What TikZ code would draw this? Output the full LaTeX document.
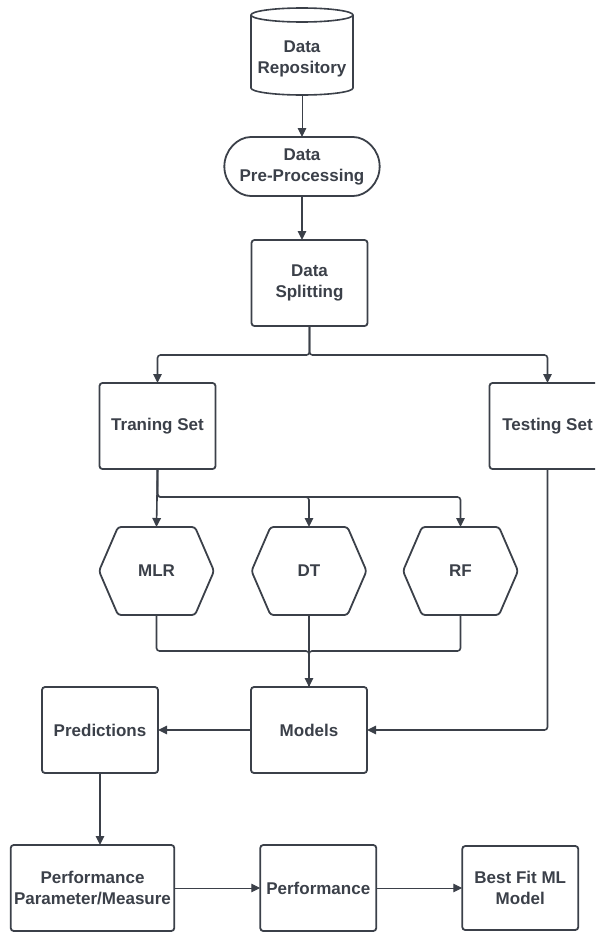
\documentclass[tikz,border=0pt]{standalone}
\usepackage{fontspec}
\setmainfont{Liberation Sans}
\usetikzlibrary{arrows.meta,positioning,shapes.misc}
\definecolor{ink}{HTML}{3B4049}
\tikzstyle{box} = [draw=ink, line width=1.8pt, outer sep=0pt, rounded corners=3pt, minimum width=116pt, minimum height=86pt, align=center, text=ink, font=\bfseries\fontsize{17}{21}\selectfont]
\tikzstyle{plain} = [outer sep=0pt, align=center, text=ink, font=\bfseries\fontsize{17}{21}\selectfont]
\tikzstyle{line} = [draw=ink, line width=1.6pt, rounded corners=3pt]
\tikzstyle{arrow} = [line, -{Triangle[length=9pt,width=8.5pt]}]
\tikzstyle{thinarrow} = [draw=ink, line width=1pt, -{Triangle[length=9pt,width=8.5pt]}]

\begin{document}
\begin{tikzpicture}[x=1pt, y=-1pt, node distance=42pt]
	\clip (0,0) rectangle (595,932);

	% repository drawn as a cylinder round the text
	\node[plain, minimum width=102pt, minimum height=73pt] (repo) at (302,58.5) {Data\\Repository};
	\draw[line, sharp corners] ([yshift=7pt]repo.north) ellipse [x radius=51pt, y radius=7pt];
	\draw[line, sharp corners] ([yshift=7pt]repo.north west) -- ([yshift=7pt]repo.south west)
		arc[start angle=180, end angle=360, x radius=51pt, y radius=7pt] -- ([yshift=7pt]repo.north east);

	\node[box, rounded rectangle, minimum width=162pt, minimum height=59pt, below=42pt of repo] (prep) {Data\\Pre-Processing};
	\node[box, below=44pt of prep, xshift=7.5pt] (split) {Data\\Splitting};
	\node[box, below left=57pt and 36pt of split] (train) {Traning Set};
	\node[box, below right=57pt and 122pt of split] (test) {Testing Set};

	% models as hexagons
	\foreach \name/\lbl/\x in {mlr/MLR/156.5, dt/DT/309, rf/RF/460.5} {
		\node[plain, minimum width=115pt, minimum height=88pt] (\name) at (\x,571) {\lbl};
		\draw[line, line width=1.8pt] ([xshift=19pt]\name.north west) -- ([xshift=-19pt]\name.north east) -- (\name.east)
			-- ([xshift=-19pt]\name.south east) -- ([xshift=19pt]\name.south west) -- (\name.west) -- cycle;
	}

	\node[box, below=72pt of dt] (models) {Models};
	\node[box, left=93pt of models] (pred) {Predictions};
	\node[box, below=72pt of pred, xshift=-7.5pt, minimum width=159pt] (perfp) {Performance\\Parameter/Measure};
	\node[box, right=86pt of perfp] (perf) {Performance};
	\node[box, right=86pt of perf, minimum height=84pt] (best) {Best Fit ML\\Model};

	\draw[thinarrow] (repo.south) -- (prep.north);
	\draw[arrow] (prep.south) -- (prep.south |- split.north);
	\draw[arrow] (split.south) -- ++(0,29) -| (train.north);
	\draw[arrow] (split.south) -- ++(0,29) -| (test.north);

	\draw[arrow] (train.south) -- (mlr.north);
	\draw[arrow] (train.south) -- ++(0,28) -| (dt.north);
	\draw[arrow] (train.south) -- ++(0,28) -| (rf.north);

	\draw[line] (mlr.south) -- ++(0,36) -| (models.north);
	\draw[line] (rf.south) -- ++(0,36) -| (models.north);
	\draw[arrow] (dt.south) -- (models.north);

	\draw[arrow] (test.south) |- (models.east);
	\draw[arrow] (models) -- (pred);
	\draw[arrow] (pred.south) -- (pred.south |- perfp.north);
	\draw[thinarrow] (perfp) -- (perf);
	\draw[thinarrow] (perf) -- (best);

\end{tikzpicture}
\end{document}
